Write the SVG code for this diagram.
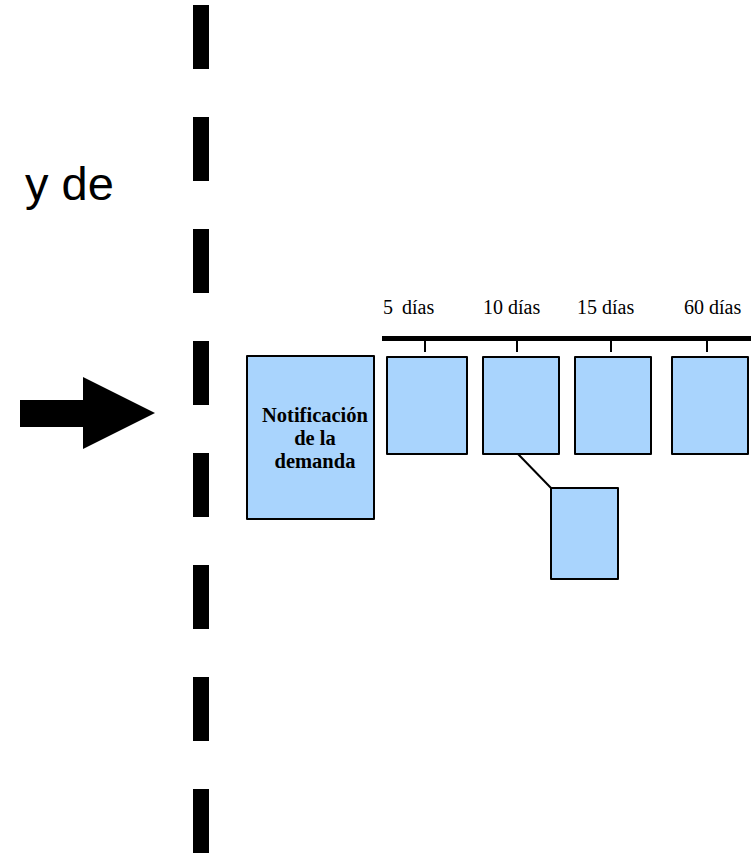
<svg xmlns="http://www.w3.org/2000/svg" width="751" height="853" viewBox="0 0 751 853">
<style>
.box{fill:#a9d4fd;stroke:#000;stroke-width:2;stroke-linejoin:round}
.dash{fill:#000}
.lbl{font-family:"Liberation Serif","Times New Roman",serif;font-size:20px;fill:#000}
.bold{font-family:"Liberation Serif","Times New Roman",serif;font-size:20.5px;font-weight:bold;fill:#000;text-anchor:middle}
.conn{stroke:#000;stroke-width:2;fill:none}
</style>
<rect width="751" height="853" fill="#fff"/>
<g id="divider">
<rect class="dash" x="193" y="5" width="16" height="64"/>
<rect class="dash" x="193" y="117" width="16" height="64"/>
<rect class="dash" x="193" y="229" width="16" height="64"/>
<rect class="dash" x="193" y="341" width="16" height="64"/>
<rect class="dash" x="193" y="453" width="16" height="64"/>
<rect class="dash" x="193" y="565" width="16" height="64"/>
<rect class="dash" x="193" y="677" width="16" height="64"/>
<rect class="dash" x="193" y="789" width="16" height="64"/>
</g>
<g id="title">
<text x="25" y="200" font-family="Liberation Sans, Arial, sans-serif" font-size="47" fill="#000">y de</text>
</g>
<g id="arrow">
<rect x="20" y="400" width="64" height="27" fill="#000"/>
<polygon points="83,377 155,413 83,449" fill="#000"/>
</g>
<g id="timeline">
<rect x="382" y="336" width="369" height="5" fill="#000"/>
<text class="lbl" x="383" y="314" word-spacing="4">5 días</text>
<text class="lbl" x="483" y="314">10 días</text>
<text class="lbl" x="577" y="314">15 días</text>
<text class="lbl" x="684" y="314">60 días</text>
</g>
<g id="connectors">
<line class="conn" x1="425" y1="341" x2="425" y2="352"/>
<line class="conn" x1="517" y1="341" x2="517" y2="352"/>
<line class="conn" x1="611" y1="341" x2="611" y2="352"/>
<line class="conn" x1="707" y1="341" x2="707" y2="352"/>
<line class="conn" x1="518" y1="454" x2="551" y2="488"/>
</g>
<g id="notificacion">
<rect class="box" x="247" y="356" width="127" height="163"/>
<text class="bold" x="315" y="421.5">Notificación</text>
<text class="bold" x="315" y="444.5">de la</text>
<text class="bold" x="315" y="467.5">demanda</text>
</g>
<g id="box5"><rect class="box" x="387" y="357" width="80" height="97"/></g>
<g id="box10"><rect class="box" x="483" y="357" width="76" height="97"/></g>
<g id="box15"><rect class="box" x="575" y="357" width="76" height="97"/></g>
<g id="box60"><rect class="box" x="672" y="357" width="76" height="97"/></g>
<g id="box10sub"><rect class="box" x="551" y="488" width="67" height="91"/></g>
</svg>
